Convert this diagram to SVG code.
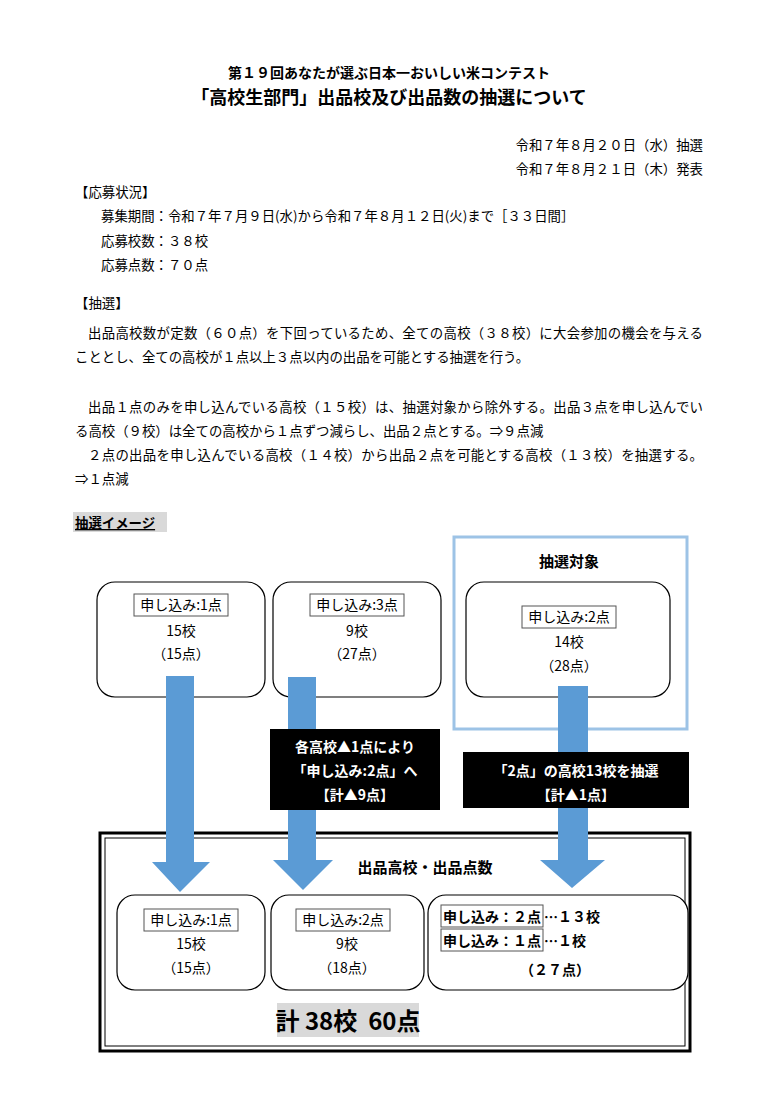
<svg xmlns="http://www.w3.org/2000/svg" width="778" height="1100" viewBox="0 0 778 1100">
<style>
text{font-family:"Noto Sans CJK JP","Noto Sans",sans-serif;fill:#000}
.b{font-weight:bold}
.t{font-size:13.4px}
.n{font-size:14px}
.box{fill:#fff;stroke:#000;stroke-width:1.2}
.lbl{fill:none;stroke:#555;stroke-width:1}
.arr{fill:#5b9bd5}
.blk{fill:#000}
.w{fill:#fff;font-weight:bold;font-size:14px}
</style>
<rect width="778" height="1100" fill="#fff"/>
<g id="header">
<text x="389" y="78" text-anchor="middle" class="b" font-size="14">第１９回あなたが選ぶ日本一おいしい米コンテスト</text>
<text x="389" y="104" text-anchor="middle" class="b" font-size="18">「高校生部門」出品校及び出品数の抽選について</text>
<text x="703" y="150" text-anchor="end" class="t">令和７年８月２０日（水）抽選</text>
<text x="703" y="174" text-anchor="end" class="t">令和７年８月２１日（木）発表</text>
<text x="75" y="197" class="t">【応募状況】</text>
<text x="101" y="221" class="t">募集期間：令和７年７月９日(水)から令和７年８月１２日(火)まで［３３日間］</text>
<text x="101" y="246" class="t">応募校数：３８校</text>
<text x="101" y="270" class="t">応募点数：７０点</text>
<text x="75" y="308" class="t">【抽選】</text>
<text x="88" y="338" class="t" textLength="615">出品高校数が定数（６０点）を下回っているため、全ての高校（３８校）に大会参加の機会を与える</text>
<text x="75" y="362" class="t">こととし、全ての高校が１点以上３点以内の出品を可能とする抽選を行う。</text>
<text x="88" y="412" class="t" textLength="615">出品１点のみを申し込んでいる高校（１５校）は、抽選対象から除外する。出品３点を申し込んでい</text>
<text x="75" y="436" class="t">る高校（９校）は全ての高校から１点ずつ減らし、出品２点とする。⇒９点減</text>
<text x="88" y="460" class="t" textLength="615">２点の出品を申し込んでいる高校（１４校）から出品２点を可能とする高校（１３校）を抽選する。</text>
<text x="75" y="484" class="t">⇒１点減</text>
<rect x="73" y="512" width="94" height="20" fill="#d9d9d9"/>
<text x="75" y="528" class="t b" text-decoration="underline">抽選イメージ</text>
</g>
<g id="outer">
<rect x="100" y="833" width="590" height="218" fill="#fff" stroke="#000" stroke-width="3"/>
<rect x="105" y="838" width="580" height="208" fill="none" stroke="#000" stroke-width="1"/>
<text x="425" y="873" text-anchor="middle" class="b" font-size="15">出品高校・出品点数</text>
<rect x="277" y="1003" width="142" height="34" fill="#d9d9d9"/>
<text x="348" y="1030" text-anchor="middle" class="b" font-size="24" xml:space="preserve">計 38校  60点</text>
</g>
<g id="target">
<rect x="454" y="537" width="233" height="192" fill="none" stroke="#9dc3e6" stroke-width="3"/>
<text x="569" y="567" text-anchor="middle" class="b" font-size="15">抽選対象</text>
</g>
<g id="top1"><rect class="box" x="97" y="582" width="168" height="115" rx="18"/>
<rect class="lbl" x="134" y="594" width="94" height="22"/><text x="181" y="610" text-anchor="middle" class="n">申し込み:1点</text>
<text x="181" y="636" text-anchor="middle" class="n">15校</text><text x="181" y="659" text-anchor="middle" class="n">（15点）</text></g>
<g id="top2"><rect class="box" x="273" y="582" width="168" height="115" rx="18"/>
<rect class="lbl" x="310" y="594" width="94" height="22"/><text x="357" y="610" text-anchor="middle" class="n">申し込み:3点</text>
<text x="357" y="636" text-anchor="middle" class="n">9校</text><text x="357" y="659" text-anchor="middle" class="n">（27点）</text></g>
<g id="top3"><rect class="box" x="466" y="582" width="204" height="115" rx="18"/>
<rect class="lbl" x="522" y="606" width="94" height="22"/><text x="569" y="622" text-anchor="middle" class="n">申し込み:2点</text>
<text x="569" y="647" text-anchor="middle" class="n">14校</text><text x="569" y="671" text-anchor="middle" class="n">（28点）</text></g>
<g id="connectors">
<path class="arr" d="M166 676H194V862H210L180 892L152 862H166Z"/>
<path class="arr" d="M288 677H316V860H333L303 890L273 860H288Z"/>
<path class="arr" d="M558 686H588V860H605L572 888L540 860H558Z"/>
</g>
<g id="note1"><rect class="blk" x="270" y="729" width="170" height="81"/>
<text x="355" y="752" text-anchor="middle" class="w">各高校▲1点により</text>
<text x="355" y="776" text-anchor="middle" class="w">「申し込み:2点」へ</text>
<text x="355" y="800" text-anchor="middle" class="w">【計▲9点】</text></g>
<g id="note2"><rect class="blk" x="463" y="752" width="226" height="56"/>
<text x="576" y="776" text-anchor="middle" class="w">「2点」の高校13校を抽選</text>
<text x="576" y="800" text-anchor="middle" class="w">【計▲1点】</text></g>
<g id="bot1"><rect class="box" x="117" y="895" width="148" height="95" rx="18"/>
<rect class="lbl" x="144" y="909" width="94" height="22"/><text x="191" y="925" text-anchor="middle" class="n">申し込み:1点</text>
<text x="191" y="949" text-anchor="middle" class="n">15校</text><text x="191" y="973" text-anchor="middle" class="n">（15点）</text></g>
<g id="bot2"><rect class="box" x="271" y="895" width="153" height="95" rx="18"/>
<rect class="lbl" x="296" y="909" width="94" height="22"/><text x="343" y="925" text-anchor="middle" class="n">申し込み:2点</text>
<text x="347" y="949" text-anchor="middle" class="n">9校</text><text x="347" y="973" text-anchor="middle" class="n">（18点）</text></g>
<g id="bot3"><rect class="box" x="428" y="895" width="260" height="95" rx="18"/>
<rect class="lbl" x="441" y="905" width="102" height="22"/><text x="443" y="922" class="n b">申し込み：２点</text><text x="544" y="922" class="n b">…１３校</text>
<rect class="lbl" x="441" y="929" width="102" height="22"/><text x="443" y="946" class="n b">申し込み：１点</text><text x="544" y="946" class="n b">…１校</text>
<text x="555" y="975" text-anchor="middle" class="n b">（２７点）</text></g>
</svg>
